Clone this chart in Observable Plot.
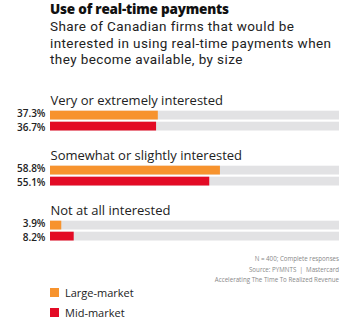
<!DOCTYPE html>
<html>
<head>
<meta charset="utf-8">
<script src="https://cdn.jsdelivr.net/npm/d3@7"></script>
<script src="https://cdn.jsdelivr.net/npm/@observablehq/plot@0.6"></script>
<style>
  html, body { margin: 0; padding: 0; background: #fff; }
  body { width: 356px; height: 333px; overflow: hidden; font-family: "Open Sans", sans-serif; color: #222; }
  .title { position: absolute; left: 50px; top: 0.5px; font-size: 13.5px; font-weight: 800; color: #111; line-height: 16px; letter-spacing: -0.2px; }
  .subtitle { position: absolute; left: 50px; top: 18.3px; width: 300px; font-family: Roboto, sans-serif; font-size: 13.5px; line-height: 16.2px; color: #222; letter-spacing: 0.4px; }
  #chart { position: absolute; left: 0; top: 80px; }
  .notes { position: absolute; right: 17px; top: 254px; text-align: right; font-size: 6.2px; line-height: 10.7px; color: #888; white-space: nowrap; }
  .legend { position: absolute; left: 50px; top: 282px; font-size: 11px; color: #222; }
  .legend div { display: flex; align-items: center; height: 20px; }
  .legend span.sw { width: 9px; height: 9px; margin-right: 6px; display: inline-block; }
</style>
</head>
<body>
<div class="title">Use of real-time payments</div>
<div class="subtitle">Share of Canadian firms that would be<br>interested in using real-time payments when<br>they become available, by size</div>
<div id="chart"></div>
<div class="notes">N = 400; Complete responses<br>Source: PYMNTS &nbsp;|&nbsp; Mastercard<br>Accelerating The Time To Realized Revenue</div>
<div class="legend" id="legend"></div>
<script>
const categories = ["Very or extremely interested", "Somewhat or slightly interested", "Not at all interested"];
const sizes = ["Large-market", "Mid-market"];
const largeValues = [37.3, 58.8, 3.9];
const midValues = [36.7, 55.1, 8.2];
const colors = ["#F7932E", "#E30B25"];

const data = [];
categories.forEach((c, i) => {
  data.push({category: c, size: sizes[0], value: largeValues[i]});
  data.push({category: c, size: sizes[1], value: midValues[i]});
});

const labelStyle = {x: 0, y: "size", fy: "category", text: d => d.value.toFixed(1) + "%", textAnchor: "end", dx: -5, fontSize: 10, fontWeight: 600, fill: "#222", letterSpacing: "0.3px"};

const chart = Plot.plot({
  width: 356,
  height: 166,
  marginLeft: 50,
  marginRight: 17,
  marginTop: 28.5,
  marginBottom: 3.3,
  style: {fontFamily: "Open Sans, sans-serif", overflow: "visible"},
  x: {domain: [0, 100], axis: null},
  y: {domain: sizes, axis: null, padding: 0.2, round: false},
  fy: {domain: categories, axis: null, paddingInner: 0.56, paddingOuter: 0, round: false},
  color: {domain: sizes, range: colors},
  marks: [
    Plot.barX(data, {x1: 0, x2: 100, y: "size", fy: "category", fill: "#E2E2E4"}),
    Plot.barX(data, {x: "value", y: "size", fy: "category", fill: "size"}),
    Plot.text(data, {...labelStyle, filter: d => d.size === sizes[0], dy: -1.5}),
    Plot.text(data, {...labelStyle, filter: d => d.size === sizes[1], dy: 1.5}),
    Plot.text(categories, {fy: d => d, text: d => d, frameAnchor: "top-left", dy: -7.7, lineAnchor: "middle", fontSize: 13, fill: "#222", letterSpacing: "-0.2px"})
  ]
});
document.getElementById("chart").appendChild(chart);

const legend = document.getElementById("legend");
sizes.forEach((s, i) => {
  const row = document.createElement("div");
  row.innerHTML = `<span class="sw" style="background:${colors[i]}"></span>${s}`;
  legend.appendChild(row);
});
</script>
</body>
</html>
